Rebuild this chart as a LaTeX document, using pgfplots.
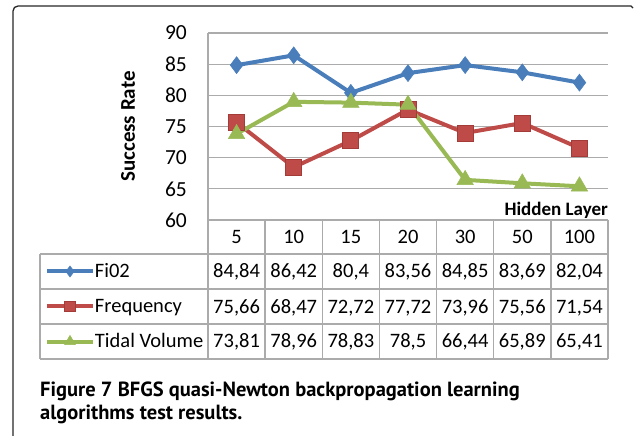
\documentclass[border=0pt]{standalone}
\usepackage{fontspec}
\setmainfont{Carlito}
\newfontfamily\capfont{PT Sans}
\usepackage{pgfplots}
\pgfplotsset{compat=1.18}
\definecolor{cblue}{HTML}{4A7EBB}
\definecolor{cred}{HTML}{BE4B48}
\definecolor{credd}{HTML}{A33C39}
\definecolor{cgreen}{HTML}{98B954}
\definecolor{gridc}{HTML}{ABABAB}
\begin{document}
\begin{tikzpicture}[x=1pt,y=1pt]
\useasboundingbox (0,0) rectangle (634,-436);
\draw[line width=1.3pt, black!85] (13,-436) -- (13,-11) arc[start angle=180,end angle=90,radius=5] -- (631,-6) -- (633,-8);
\begin{axis}[at={(208pt,-220pt)}, anchor=south west, scale only axis,
  width=400pt, height=187pt,
  xmin=0.5, xmax=7.5, ymin=60, ymax=90,
  ytick={60,65,...,90}, xtick=\empty,
  axis y line*=left, axis x line*=bottom,
  axis line style={gridc, line width=1.3pt},
  ymajorgrids, grid style={gridc, line width=1.3pt},
  major tick length=0pt,
  /pgf/number format/assume math mode=true,
  yticklabel style={font=\fontsize{21.5}{25}\selectfont, anchor=east, inner sep=0pt, xshift=-21pt},
  ylabel={Success Rate},
  ylabel style={font=\bfseries\fontsize{21}{25}\selectfont, at={(axis description cs:-0.2,0.5)}, anchor=center},
  clip=false,
  legend style={at={(axis description cs:-0.4075,-0.1818)}, anchor=north west,
    draw=none, fill=none, inner sep=0pt, outer sep=0pt, row sep=0pt,
    font=\fontsize{20.5}{24}\selectfont,
    nodes={inner sep=0pt, minimum height=35pt},
    /tikz/every even column/.append style={column sep=5pt}},
  legend cell align=left,
  legend image code/.code={\draw[mark repeat=2,mark phase=2,#1,/tikz/every mark/.append style={scale=0.65}] plot coordinates {(0pt,0pt) (23pt,0pt) (46pt,0pt)};},
]
\addplot[cblue, line width=4pt, mark=diamond*, mark size=8.5pt, mark options={fill=cblue, draw=cblue, line width=0.5pt}]
  coordinates {(1,84.84) (2,86.42) (3,80.4) (4,83.56) (5,84.85) (6,83.69) (7,82.04)};
\addlegendentry{Fi02}
\addplot[cred, line width=4pt, mark=square*, mark size=8pt, mark options={fill=cred, draw=credd, line width=0.8pt}]
  coordinates {(1,75.66) (2,68.47) (3,72.72) (4,77.72) (5,73.96) (6,75.56) (7,71.54)};
\addlegendentry{Frequency}
\addplot[cgreen, line width=4pt, mark=triangle*, mark size=9.5pt, mark options={fill=cgreen, draw=cgreen, line width=0.5pt}]
  coordinates {(1,73.81) (2,78.96) (3,78.83) (4,78.5) (5,66.44) (6,65.89) (7,65.41)};
\addlegendentry{Tidal Volume}
\end{axis}
% data table grid
\begin{scope}[gridc, line width=1.3pt]
\foreach \k in {0,...,7} { \draw ({208+57.142857*\k},-220) -- ({208+57.142857*\k},-359); }
\draw (40,-254) -- (608,-254);
\draw (40,-289) -- (608,-289);
\draw (40,-324) -- (608,-324);
\draw (40,-359) -- (608,-359);
\draw (40,-254) -- (40,-359);
\end{scope}
\node[anchor=base east, inner sep=0pt, font=\bfseries\fontsize{19}{22}\selectfont] at (608,-215.5) {Hidden Layer};
\begin{scope}[every node/.style={anchor=base, inner sep=0pt, font=\fontsize{20.5}{24}\selectfont}]
\foreach \v [count=\i from 0] in {5,10,15,20,30,50,100}
  \node at ({236.57+57.142857*\i},-243) {\v};
\foreach \v [count=\i from 0] in {{84,84},{86,42},{80,4},{83,56},{84,85},{83,69},{82,04}}
  \node at ({236.57+57.142857*\i},-277.5) {\v};
\foreach \v [count=\i from 0] in {{75,66},{68,47},{72,72},{77,72},{73,96},{75,56},{71,54}}
  \node at ({236.57+57.142857*\i},-313) {\v};
\foreach \v [count=\i from 0] in {{73,81},{78,96},{78,83},{78,5},{66,44},{65,89},{65,41}}
  \node at ({236.57+57.142857*\i},-347.5) {\v};
\end{scope}
\node[anchor=base west, inner sep=0pt, font=\capfont\bfseries\fontsize{20.5}{24}\selectfont] at (40,-396) {Figure 7 BFGS quasi-Newton backpropagation learning};
\node[anchor=base west, inner sep=0pt, font=\capfont\bfseries\fontsize{20.5}{24}\selectfont] at (40,-419) {algorithms test results.};
\end{tikzpicture}
\end{document}
